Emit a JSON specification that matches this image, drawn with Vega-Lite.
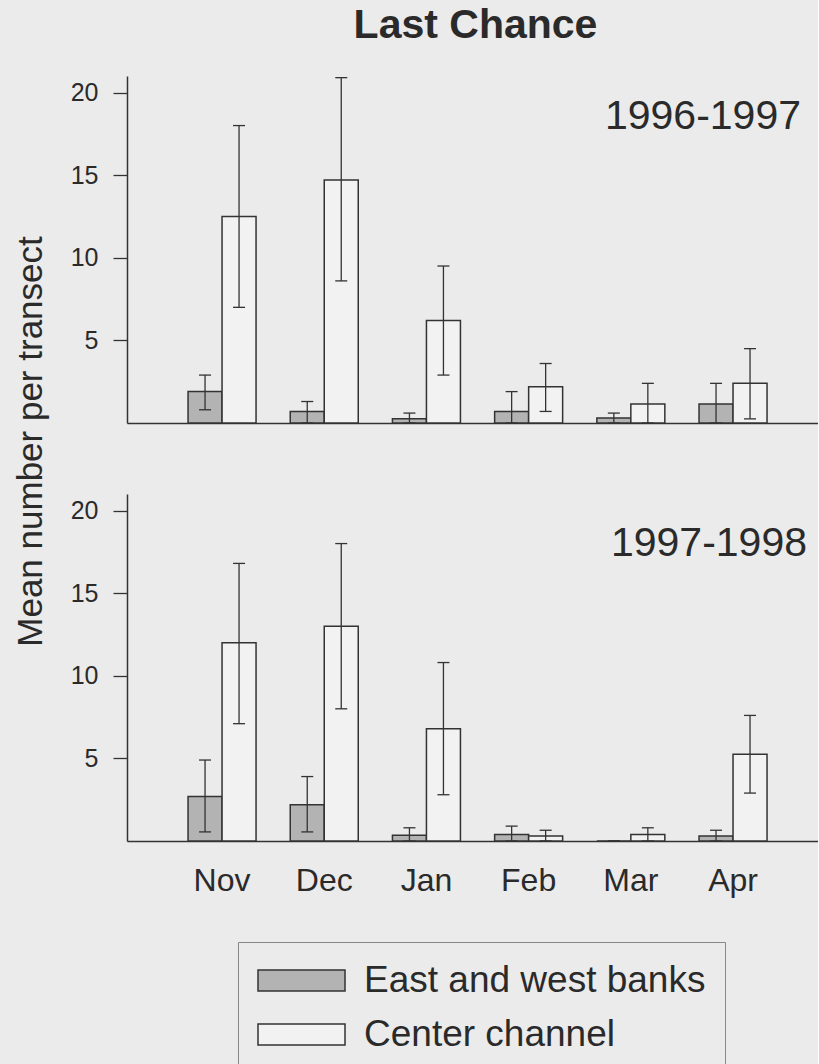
{
  "$schema": "https://vega.github.io/schema/vega-lite/v6.json",
  "background": "#ebebeb",
  "padding": {"left": 13, "top": 5, "right": 0, "bottom": 0},
  "title": {"text": "Last Chance", "fontSize": 41, "fontWeight": "bold", "anchor": "middle", "frame": "group", "offset": -3, "dx": 3, "baseline": "alphabetic", "color": "#2a2a2a"},
  "data": {"values": [
    {"year": "1996-1997", "month": "Nov", "site": "East and west banks", "mean": 1.9, "lo": 0.8, "hi": 2.9},
    {"year": "1996-1997", "month": "Nov", "site": "Center channel", "mean": 12.5, "lo": 7.0, "hi": 18.0},
    {"year": "1996-1997", "month": "Dec", "site": "East and west banks", "mean": 0.7, "lo": 0, "hi": 1.3},
    {"year": "1996-1997", "month": "Dec", "site": "Center channel", "mean": 14.7, "lo": 8.6, "hi": 20.9},
    {"year": "1996-1997", "month": "Jan", "site": "East and west banks", "mean": 0.25, "lo": 0, "hi": 0.6},
    {"year": "1996-1997", "month": "Jan", "site": "Center channel", "mean": 6.2, "lo": 2.9, "hi": 9.5},
    {"year": "1996-1997", "month": "Feb", "site": "East and west banks", "mean": 0.7, "lo": 0, "hi": 1.9},
    {"year": "1996-1997", "month": "Feb", "site": "Center channel", "mean": 2.2, "lo": 0.7, "hi": 3.6},
    {"year": "1996-1997", "month": "Mar", "site": "East and west banks", "mean": 0.3, "lo": 0, "hi": 0.6},
    {"year": "1996-1997", "month": "Mar", "site": "Center channel", "mean": 1.15, "lo": 0, "hi": 2.4},
    {"year": "1996-1997", "month": "Apr", "site": "East and west banks", "mean": 1.15, "lo": 0, "hi": 2.4},
    {"year": "1996-1997", "month": "Apr", "site": "Center channel", "mean": 2.4, "lo": 0.25, "hi": 4.5},
    {"year": "1997-1998", "month": "Nov", "site": "East and west banks", "mean": 2.7, "lo": 0.55, "hi": 4.9},
    {"year": "1997-1998", "month": "Nov", "site": "Center channel", "mean": 12.0, "lo": 7.1, "hi": 16.8},
    {"year": "1997-1998", "month": "Dec", "site": "East and west banks", "mean": 2.2, "lo": 0.55, "hi": 3.9},
    {"year": "1997-1998", "month": "Dec", "site": "Center channel", "mean": 13.0, "lo": 8.0, "hi": 18.0},
    {"year": "1997-1998", "month": "Jan", "site": "East and west banks", "mean": 0.35, "lo": 0, "hi": 0.8},
    {"year": "1997-1998", "month": "Jan", "site": "Center channel", "mean": 6.8, "lo": 2.8, "hi": 10.8},
    {"year": "1997-1998", "month": "Feb", "site": "East and west banks", "mean": 0.4, "lo": 0, "hi": 0.9},
    {"year": "1997-1998", "month": "Feb", "site": "Center channel", "mean": 0.3, "lo": 0, "hi": 0.65},
    {"year": "1997-1998", "month": "Mar", "site": "East and west banks", "mean": 0, "lo": 0, "hi": 0},
    {"year": "1997-1998", "month": "Mar", "site": "Center channel", "mean": 0.4, "lo": 0, "hi": 0.8},
    {"year": "1997-1998", "month": "Apr", "site": "East and west banks", "mean": 0.3, "lo": 0, "hi": 0.65},
    {"year": "1997-1998", "month": "Apr", "site": "Center channel", "mean": 5.25, "lo": 2.9, "hi": 7.6}
  ]},
  "spacing": 71,
  "bounds": "flush",
  "vconcat": [
    {
      "width": 691, "height": 347,
      "title": {"text": "1996-1997", "anchor": "end", "frame": "group", "offset": -94, "fontSize": 41, "fontWeight": "normal", "baseline": "alphabetic", "dx": -17, "color": "#2a2a2a"},
      "transform": [{"filter": "datum.year === '1996-1997'"}],
      "encoding": {
        "x": {"field": "month", "type": "nominal", "sort": ["Nov", "Dec", "Jan", "Feb", "Mar", "Apr"],
              "scale": {"paddingInner": 0.3346, "paddingOuter": 0.548, "align": 0.545},
              "axis": {"labels": false, "ticks": false, "domain": true, "title": null}},
        "xOffset": {"field": "site", "type": "nominal", "sort": ["East and west banks", "Center channel"], "scale": {"paddingInner": 0, "paddingOuter": 0}}
      },
      "layer": [
        {"mark": {"type": "bar", "stroke": "#333333", "strokeWidth": 1.5},
         "encoding": {
           "y": {"field": "mean", "type": "quantitative", "title": "Mean number per transect", "scale": {"domain": [0, 21], "nice": false},
                 "axis": {"values": [5, 10, 15, 20], "titleX": -86, "titleY": 365, "titleBaseline": "alphabetic", "titleAlign": "center"}},
           "fill": {"field": "site", "type": "nominal", "scale": {"domain": ["East and west banks", "Center channel"], "range": ["#b3b3b3", "#f2f2f2"]}}
         }},
        {"mark": {"type": "rule", "stroke": "#333333", "strokeWidth": 1.3},
         "encoding": {"y": {"field": "lo", "type": "quantitative", "title": "Mean number per transect"}, "y2": {"field": "hi"}}},
        {"mark": {"type": "tick", "orient": "horizontal", "size": 12, "thickness": 1.3, "color": "#333333", "opacity": 1},
         "encoding": {"y": {"field": "hi", "type": "quantitative", "title": "Mean number per transect"}}},
        {"mark": {"type": "tick", "orient": "horizontal", "size": 12, "thickness": 1.3, "color": "#333333", "opacity": 1},
         "encoding": {"y": {"field": "lo", "type": "quantitative", "title": "Mean number per transect"}}}
      ]
    },
    {
      "width": 691, "height": 347,
      "title": {"text": "1997-1998", "anchor": "end", "frame": "group", "offset": -103, "fontSize": 41, "fontWeight": "normal", "baseline": "alphabetic", "dx": -11, "color": "#2a2a2a"},
      "transform": [{"filter": "datum.year === '1997-1998'"}],
      "encoding": {
        "x": {"field": "month", "type": "nominal", "sort": ["Nov", "Dec", "Jan", "Feb", "Mar", "Apr"],
              "scale": {"paddingInner": 0.3346, "paddingOuter": 0.548, "align": 0.545},
              "axis": {"labels": true, "ticks": false, "domain": true, "title": null, "labelFontSize": 32, "labelPadding": 24, "labelAngle": 0}},
        "xOffset": {"field": "site", "type": "nominal", "sort": ["East and west banks", "Center channel"], "scale": {"paddingInner": 0, "paddingOuter": 0}}
      },
      "layer": [
        {"mark": {"type": "bar", "stroke": "#333333", "strokeWidth": 1.5},
         "encoding": {
           "y": {"field": "mean", "type": "quantitative", "title": null, "scale": {"domain": [0, 21], "nice": false},
                 "axis": {"values": [5, 10, 15, 20]}},
           "fill": {"field": "site", "type": "nominal", "scale": {"domain": ["East and west banks", "Center channel"], "range": ["#b3b3b3", "#f2f2f2"]}}
         }},
        {"mark": {"type": "rule", "stroke": "#333333", "strokeWidth": 1.3},
         "encoding": {"y": {"field": "lo", "type": "quantitative", "title": null}, "y2": {"field": "hi"}}},
        {"mark": {"type": "tick", "orient": "horizontal", "size": 12, "thickness": 1.3, "color": "#333333", "opacity": 1},
         "encoding": {"y": {"field": "hi", "type": "quantitative", "title": null}}},
        {"mark": {"type": "tick", "orient": "horizontal", "size": 12, "thickness": 1.3, "color": "#333333", "opacity": 1},
         "encoding": {"y": {"field": "lo", "type": "quantitative", "title": null}}}
      ]
    }
  ],
  "resolve": {"scale": {"fill": "shared"}},
  "config": {
    "font": "Liberation Sans",
    "view": {"stroke": null},
    "axis": {"domainColor": "#333333", "domainWidth": 1.5, "tickColor": "#333333", "tickWidth": 1.3, "tickSize": 14,
             "labelColor": "#2a2a2a", "labelFontSize": 25, "labelPadding": 15, "titleColor": "#2a2a2a", "titleFontSize": 35, "titleFontWeight": "normal", "grid": false},
    "legend": {"orient": "none", "legendX": 111, "legendY": 866, "title": null, "direction": "vertical",
               "symbolType": "M-1,-0.5676H3.703V0.5676H-1Z", "symbolSize": 1369, "symbolStrokeColor": "#333333", "symbolStrokeWidth": 1.5, "symbolOpacity": 1,
               "labelFontSize": 37, "labelOffset": 68, "rowPadding": 16, "padding": 19, "strokeColor": "#888888", "labelLimit": 0, "labelColor": "#2a2a2a"}
  }
}
